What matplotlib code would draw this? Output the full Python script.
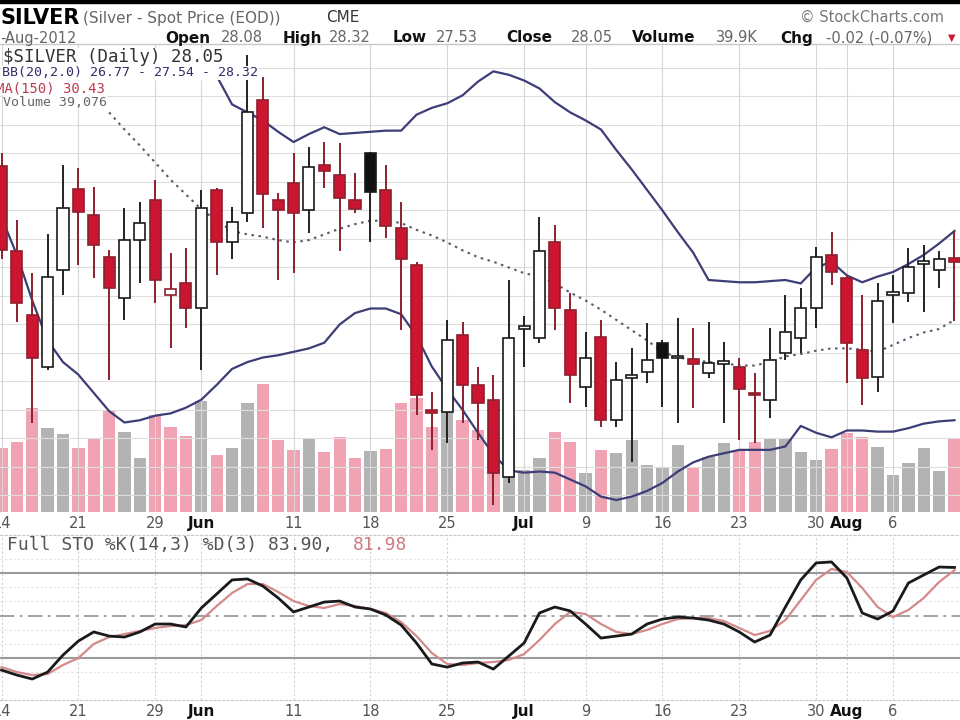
import matplotlib
matplotlib.use("Agg")
import matplotlib.pyplot as plt
import numpy as np

# ---- data, 63 trading days 14-May-2012 .. 10-Aug-2012 ----
prev_close0 = 28.30

opens = [28.89, 28.14, 27.58, 27.13, 27.98, 28.69, 28.46, 28.09, 27.73, 28.24,
         28.59, 27.76, 27.86, 27.64, 28.68, 28.22, 28.48, 29.47, 28.59, 28.74,
         28.50, 28.90, 28.81, 28.59, 29.00, 28.68, 28.35, 28.02, 26.75, 26.73,
         27.41, 26.97, 26.84, 26.16, 27.46, 27.38, 28.22, 27.63, 26.95, 27.39,
         26.66, 27.04, 27.08, 27.34, 27.21, 27.20, 27.07, 27.16, 27.13, 26.90,
         26.84, 27.25, 27.38, 27.64, 28.11, 27.91, 27.28, 27.04, 27.77, 27.78,
         28.03, 27.98, 28.08]
highs = [29.00, 28.42, 27.95, 28.29, 28.90, 28.87, 28.71, 28.15, 28.52, 28.57,
         28.77, 28.13, 28.17, 28.68, 28.70, 28.53, 29.86, 29.67, 28.65, 29.00,
         29.06, 29.10, 29.09, 28.83, 29.01, 28.90, 28.57, 28.05, 26.91, 27.54,
         27.52, 27.13, 27.06, 27.89, 27.57, 28.44, 28.37, 27.78, 27.43, 27.54,
         27.17, 27.29, 27.51, 27.36, 27.56, 27.47, 27.52, 27.35, 27.21, 27.07,
         27.47, 27.76, 27.82, 28.18, 28.31, 27.93, 27.76, 27.86, 27.93, 28.17,
         28.20, 28.14, 28.32]
lows = [28.07, 27.52, 26.64, 27.10, 27.76, 28.02, 27.91, 27.01, 27.54, 27.86,
        27.69, 27.29, 27.47, 27.10, 27.93, 28.07, 28.40, 28.35, 27.89, 27.95,
        28.30, 28.70, 28.14, 28.48, 28.22, 28.26, 27.45, 26.71, 26.40, 26.46,
        26.64, 26.49, 25.92, 26.11, 27.13, 27.34, 27.45, 26.81, 26.78, 26.60,
        26.60, 26.29, 26.99, 26.78, 26.64, 26.77, 27.03, 26.64, 26.49, 26.46,
        26.68, 27.19, 27.25, 27.47, 27.85, 26.99, 26.79, 26.91, 27.51, 27.70,
        27.61, 27.82, 27.53]
closes = [28.15, 27.69, 27.21, 27.92, 28.52, 28.49, 28.20, 27.82, 28.24, 28.39,
          27.89, 27.81, 27.64, 28.52, 28.22, 28.40, 29.36, 28.64, 28.50, 28.48,
          28.88, 28.85, 28.61, 28.51, 28.66, 28.36, 28.07, 26.88, 26.73, 27.36,
          26.97, 26.81, 26.20, 27.38, 27.48, 28.14, 27.64, 27.06, 27.21, 26.66,
          27.01, 27.05, 27.19, 27.21, 27.22, 27.15, 27.16, 27.18, 26.93, 26.88,
          27.19, 27.43, 27.64, 28.09, 27.96, 27.34, 27.03, 27.71, 27.78, 28.00,
          28.05, 28.07, 28.05]

# volume in thousands
volume = [34.2, 37.5, 55.6, 44.9, 41.7, 34.2, 39.6, 54.6, 42.8, 28.9,
          51.9, 45.5, 40.7, 59.4, 30.5, 34.2, 58.3, 68.5, 38.5, 33.2,
          39.6, 32.1, 40.1, 28.9, 32.6, 33.7, 58.3, 61.0, 45.5, 69.0,
          49.2, 43.9, 36.9, 50.3, 22.5, 28.9, 42.8, 37.5, 20.9, 33.2,
          31.6, 38.5, 25.1, 24.1, 35.8, 23.5, 29.4, 36.9, 33.2, 37.5,
          39.1, 39.6, 32.1, 27.8, 33.7, 42.3, 40.1, 34.8, 19.8, 26.2,
          34.2, 21.9, 39.076]

bb_upper = [None] * 14 + [
    29.68, 29.43, 29.36, 29.29, 29.19, 29.10, 29.17, 29.23, 29.17, 29.18,
    29.19, 29.20, 29.20, 29.34, 29.40, 29.44, 29.51, 29.63, 29.72, 29.69,
    29.64, 29.57, 29.45, 29.36, 29.29, 29.21, 29.03, 28.86, 28.68, 28.50,
    28.31, 28.13, 27.89, 27.88, 27.87, 27.87, 27.88, 27.89, 27.86, 28.00,
    28.05, 27.93, 27.87, 27.92, 27.96, 28.03, 28.11, 28.21, 28.32]
bb_mid = [None] * 7 + [
    29.36, 29.21, 29.07, 28.92, 28.77, 28.64, 28.51, 28.41, 28.32, 28.29,
    28.27, 28.24, 28.22, 28.24, 28.29, 28.34, 28.38, 28.41, 28.41, 28.39,
    28.33, 28.28, 28.22, 28.15, 28.09, 28.05, 28.00, 27.95, 27.92, 27.86,
    27.78, 27.71, 27.63, 27.54, 27.45, 27.36, 27.26, 27.21, 27.19, 27.17,
    27.16, 27.14, 27.14, 27.17, 27.22, 27.24, 27.27, 27.29, 27.29, 27.28,
    27.26, 27.32, 27.38, 27.43, 27.46, 27.54]
bb_lower = [28.44, 28.11, 27.71, 27.36, 27.17, 27.06, 26.90, 26.74, 26.64, 26.66,
            26.70, 26.72, 26.77, 26.84, 26.97, 27.11, 27.17, 27.21, 27.23, 27.26,
            27.29, 27.34, 27.50, 27.60, 27.64, 27.64, 27.59, 27.40, 27.13, 26.93,
            26.75, 26.55, 26.36, 26.22, 26.20, 26.21, 26.20, 26.14, 26.08, 25.99,
            25.96, 25.99, 26.04, 26.11, 26.21, 26.29, 26.34, 26.37, 26.40, 26.40,
            26.40, 26.43, 26.61, 26.55, 26.51, 26.57, 26.57, 26.56, 26.56, 26.59,
            26.63, 26.65, 26.66]

sto_k = [11.5, 8.0, 5.2, 10.1, 22.1, 32.0, 38.4, 35.5, 34.8, 38.4,
         44.0, 44.0, 41.9, 55.3, 65.2, 75.1, 75.8, 70.8, 62.4, 52.5,
         56.0, 59.5, 60.2, 56.0, 54.6, 50.4, 43.3, 30.6, 15.8, 13.6,
         16.5, 17.2, 12.2, 21.4, 30.6, 51.8, 56.0, 53.2, 44.0, 34.1,
         35.5, 36.9, 44.0, 47.5, 48.9, 48.2, 46.8, 44.0, 38.4, 31.3,
         36.2, 56.0, 75.1, 87.1, 87.8, 76.5, 51.8, 47.5, 53.2, 72.9,
         78.6, 84.2, 83.90]
sto_d = [13.6, 10.1, 8.0, 8.7, 15.1, 20.0, 29.9, 34.8, 36.9, 39.1,
         41.2, 42.6, 43.3, 46.8, 56.7, 65.9, 72.2, 72.2, 66.6, 60.2,
         56.7, 55.3, 58.1, 56.7, 54.6, 51.8, 45.4, 35.5, 23.5, 15.8,
         15.1, 16.5, 17.2, 18.6, 22.8, 32.7, 44.0, 52.5, 51.1, 44.0,
         38.4, 36.9, 39.8, 44.0, 47.5, 48.2, 48.2, 46.1, 41.2, 36.2,
         39.1, 46.8, 60.9, 75.1, 82.8, 80.7, 69.4, 56.0, 48.9, 53.9,
         62.4, 73.6, 81.98]

tick_pos = [0, 5, 10, 13, 19, 24, 29, 34, 38, 43, 48, 53, 55, 58]
tick_lab = ["14", "21", "29", "Jun", "11", "18", "25", "Jul", "9", "16", "23", "30", "Aug", "6"]
months = {"Jun", "Jul", "Aug"}
price_grid = np.arange(26.0, 29.76, 0.25)

# ---- arrays ----
x = np.arange(len(closes))
o = np.array(opens); h = np.array(highs); l = np.array(lows); c = np.array(closes)
prev = np.r_[prev_close0, c[:-1]]
up = c >= prev
hollow = c > o

RED = "#cc1530"
RED_DK = "#8e1f2e"
PINK = "#f1a3b3"
GRAY = "#b3b3b3"
BAND = "#3d3d78"

XLIM = (-0.098, 62.36)


def fx(px):
    return px / 960


def fy(py):
    return 1 - py / 720


fig = plt.figure(figsize=(9.6, 7.2), dpi=100)
fig.patch.set_facecolor("white")

# top black strip and header rule
fig.add_artist(plt.Rectangle((0, fy(3)), 1, 3 / 720, transform=fig.transFigure, color="black"))
fig.add_artist(plt.Line2D([0, 1], [fy(44), fy(44)], transform=fig.transFigure, color="#c8c8c8", lw=1))

# header
fig.text(fx(0), fy(18), "SILVER", fontsize=15, fontweight="bold", va="center", family="DejaVu Sans")
fig.text(fx(83), fy(18), "(Silver - Spot Price (EOD))", fontsize=11, color="#666666", va="center")
fig.text(fx(326), fy(18), "CME", fontsize=11, color="#333333", va="center")
fig.text(fx(800), fy(17), "\u00a9 StockCharts.com", fontsize=10.5, color="#777777", va="center")

fig.text(fx(0), fy(38), "-Aug-2012", fontsize=10.5, color="#666666", va="center")
hdr = [(165, "Open", True), (221, "28.08", False), (283, "High", True), (329, "28.32", False),
       (393, "Low", True), (436, "27.53", False), (506, "Close", True), (571, "28.05", False),
       (632, "Volume", True), (716, "39.9K", False), (780, "Chg", True), (826, "-0.02 (-0.07%)", False)]
for px, s, b in hdr:
    fig.text(fx(px), fy(38), s, fontsize=11 if b else 10.5, va="center",
             fontweight="bold" if b else "normal", color="#111111" if b else "#666666")
fig.text(fx(948), fy(38), "\u25bc", fontsize=7, color=RED, va="center")

# ---- price panel ----
rect = [0, fy(512), 1, (512 - 44) / 720]
ax_vol = fig.add_axes(rect)
ax_vol.set_xlim(*XLIM)
ax_vol.set_ylim(0, 250.4)
ax_vol.bar(x, volume, width=0.8, color=np.where(up, GRAY, PINK), zorder=1)
ax_vol.set_xticks([]); ax_vol.set_yticks([])
for s in ax_vol.spines.values():
    s.set_visible(False)

ax = fig.add_axes(rect)
ax.patch.set_visible(False)
ax.set_xlim(*XLIM)
ax.set_ylim(25.855, 29.96)
for p in price_grid:
    ax.axhline(p, color="#dedede", lw=0.8, zorder=0.5)
for t in tick_pos:
    ax.axvline(t, color="#d6d6d6", lw=0.8, zorder=0.5)

ax.plot(x, np.array(bb_upper, dtype=float), color=BAND, lw=1.6, zorder=2)
ax.plot(x, np.array(bb_lower, dtype=float), color=BAND, lw=1.6, zorder=2)
ax.plot(x, np.array(bb_mid, dtype=float), color="#5a5a6e", lw=1.5, ls=(0, (1.2, 2.2)), zorder=2)

wick_col = np.where(up, "#222222", RED_DK)
edge_col = np.where(up, "#1a1a1a", RED_DK)
fill_col = np.where(hollow, "white", np.where(up, "#111111", RED))
ax.vlines(x, l, h, colors=wick_col, lw=1.4, zorder=3)
body = np.maximum(np.abs(c - o), 0.025)
mid = (o + c) / 2
ax.bar(x, body, bottom=mid - body / 2, width=0.72, color=fill_col,
       edgecolor=edge_col, linewidth=1.2, zorder=4)

ax.set_xticks(tick_pos)
ax.set_xticklabels(tick_lab)
ax.set_yticks([])
ax.tick_params(axis="x", length=0, pad=3)
for s in ax.spines.values():
    s.set_visible(False)

box = dict(facecolor="white", edgecolor="none", pad=0.2)
ax.text(fx(3), fy(57), "$SILVER (Daily) 28.05", transform=fig.transFigure, family="DejaVu Sans Mono",
        fontsize=12.5, color="#333333", va="center", bbox=box, zorder=6)
ax.text(fx(2), fy(73), "BB(20,2.0) 26.77 - 27.54 - 28.32", transform=fig.transFigure,
        family="DejaVu Sans Mono", fontsize=9.5, color="#2e2e66", va="center", bbox=box, zorder=6)
ax.text(fx(-4), fy(88), "MA(150) 30.43", transform=fig.transFigure, family="DejaVu Sans Mono",
        fontsize=10, color="#c0394d", va="center", bbox=box, zorder=6)
ax.text(fx(3), fy(102), "Volume 39,076", transform=fig.transFigure, family="DejaVu Sans Mono",
        fontsize=9.5, color="#666666", va="center", bbox=box, zorder=6)

# ---- stochastic panel ----
ax2 = fig.add_axes([0, fy(700), 1, (700 - 535) / 720])
ax2.set_xlim(*XLIM)
ax2.set_ylim(-9.6, 106.8)
for v in [10, 30, 40, 60, 70, 90]:
    ax2.axhline(v, color="#e4e4e4", lw=0.8, ls=(0, (2, 2)), zorder=0.5)
for t in tick_pos:
    ax2.axvline(t, color="#d0d0d0", lw=0.8, ls=(0, (2, 2)), zorder=0.5)
ax2.axhline(80, color="#9a9a9a", lw=1.5, zorder=1)
ax2.axhline(20, color="#9a9a9a", lw=1.5, zorder=1)
ax2.axhline(50, color="#9a9a9a", lw=1.3, ls=(0, (8, 3, 1.5, 3)), zorder=1)
ax2.plot(x, sto_d, color="#d48a8a", lw=1.6, zorder=2)
ax2.plot(x, sto_k, color="#1a1a1a", lw=2.0, zorder=3)
ax2.set_xticks(tick_pos)
ax2.set_xticklabels(tick_lab)
ax2.set_yticks([])
ax2.tick_params(axis="x", length=0, pad=3)
for k, s in ax2.spines.items():
    s.set_visible(k in ("top", "bottom"))
    s.set_color("#c8c8c8")
    s.set_linestyle((0, (2, 2)))

fig.text(fx(7), fy(545), "Full STO %K(14,3) %D(3) 83.90,", family="DejaVu Sans Mono",
         fontsize=13, color="#555555", va="center")
fig.text(fx(353), fy(545), "81.98", family="DejaVu Sans Mono", fontsize=13, color="#d07a80", va="center")

for a in (ax, ax2):
    for t in a.get_xticklabels():
        if t.get_text() in months:
            t.set_fontweight("bold"); t.set_color("#111111"); t.set_fontsize(11)
        else:
            t.set_color("#555555"); t.set_fontsize(10.5)

fig.savefig("out.png", dpi=100)
